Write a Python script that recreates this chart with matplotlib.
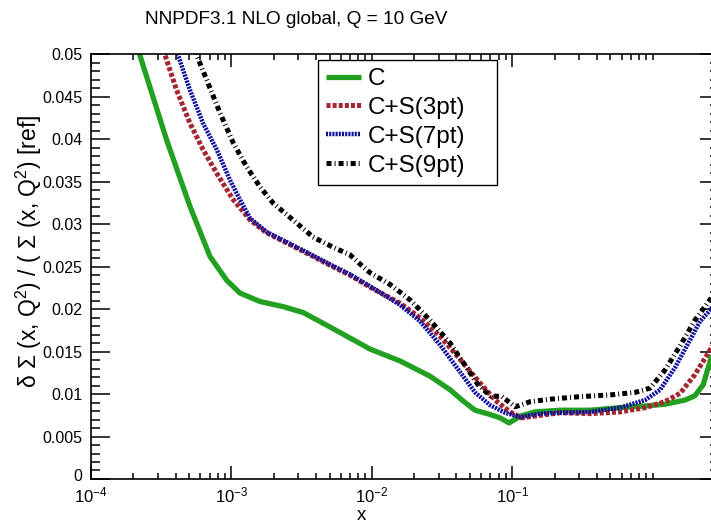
import matplotlib
matplotlib.use("Agg")
import matplotlib.pyplot as plt
from matplotlib.ticker import FixedLocator, NullFormatter
from matplotlib.transforms import ScaledTranslation

plt.rcParams["font.family"] = ["Liberation Sans", "DejaVu Sans"]
plt.rcParams["mathtext.fontset"] = "custom"
plt.rcParams["mathtext.rm"] = "Liberation Sans"
plt.rcParams["mathtext.it"] = "Liberation Sans:italic"
plt.rcParams["lines.scale_dashes"] = False

# uncertainty curves
x_c = [2.1e-4, 2.23e-4, 3.46e-4, 5.07e-4, 7.04e-4, 9.26e-4, 1.15e-3, 1.60e-3, 2.34e-3,
       3.25e-3, 5.04e-3, 7.0e-3, 9.71e-3, 1.59e-2, 2.60e-2, 3.61e-2, 4.46e-2, 5.43e-2,
       6.95e-2, 8.19e-2, 9.49e-2, 0.114, 0.145, 0.219, 0.358, 0.586, 0.883, 1.22,
       1.70, 2.00, 2.29, 2.61, 2.97]
y_c = [0.052, 0.0499, 0.0399, 0.0321, 0.0262, 0.0234, 0.0219, 0.0209, 0.0203,
       0.0196, 0.0179, 0.0166, 0.0153, 0.0139, 0.0121, 0.0105, 0.0092, 0.0081,
       0.0076, 0.0072, 0.0066, 0.0074, 0.0079, 0.0081, 0.0081, 0.0084, 0.0086, 0.0088,
       0.0093, 0.0098, 0.0111, 0.0143, 0.0170]

x_3pt = [3.2e-4, 3.37e-4, 4.07e-4, 5.07e-4, 6.28e-4, 7.86e-4, 1.03e-3, 1.36e-3, 1.78e-3,
         2.48e-3, 3.44e-3, 5.29e-3, 7.0e-3, 9.71e-3, 1.59e-2, 2.20e-2, 3.06e-2, 4.25e-2,
         5.90e-2, 7.54e-2, 9.64e-2, 0.117, 0.158, 0.219, 0.358, 0.586, 0.883, 1.22,
         1.57, 2.00, 2.61, 2.97]
y_3pt = [0.052, 0.0499, 0.0458, 0.0419, 0.0388, 0.0360, 0.0329, 0.0305, 0.0290,
         0.0278, 0.0266, 0.0250, 0.0240, 0.0226, 0.0207, 0.0190, 0.0168, 0.0141,
         0.0113, 0.0093, 0.0079, 0.0072, 0.0075, 0.0078, 0.0077, 0.0079, 0.0084, 0.0091,
         0.0101, 0.0123, 0.0154, 0.0180]

x_7pt = [4.0e-4, 4.17e-4, 5.07e-4, 6.28e-4, 7.86e-4, 9.77e-4, 1.15e-3, 1.36e-3, 1.78e-3,
         2.48e-3, 3.44e-3, 5.29e-3, 7.0e-3, 9.71e-3, 1.59e-2, 2.20e-2, 3.06e-2, 4.25e-2,
         5.43e-2, 6.95e-2, 8.89e-2, 0.114, 0.158, 0.219, 0.358, 0.586, 0.883, 1.13,
         1.44, 1.85, 2.18, 2.61, 2.97]
y_7pt = [0.052, 0.0499, 0.0458, 0.0419, 0.0388, 0.0352, 0.0329, 0.0307, 0.0291,
         0.0279, 0.0267, 0.0251, 0.0241, 0.0227, 0.0205, 0.0186, 0.0158, 0.0126,
         0.0102, 0.0087, 0.0078, 0.0073, 0.0077, 0.0078, 0.0079, 0.0084, 0.0093, 0.0105,
         0.0131, 0.0164, 0.0186, 0.0200, 0.0225]

x_9pt = [5.5e-4, 5.66e-4, 6.67e-4, 8.30e-4, 1.03e-3, 1.28e-3, 1.60e-3, 1.98e-3, 2.75e-3,
         3.81e-3, 5.29e-3, 7.0e-3, 8.65e-3, 9.71e-3, 1.35e-2, 1.87e-2, 2.60e-2, 3.61e-2,
         4.61e-2, 5.71e-2, 6.95e-2, 8.46e-2, 0.105, 0.134, 0.186, 0.304, 0.498, 0.750,
         0.957, 1.22, 1.57, 2.00, 2.61, 2.97]
y_9pt = [0.052, 0.0499, 0.0470, 0.0431, 0.0396, 0.0368, 0.0344, 0.0325, 0.0305,
         0.0285, 0.0273, 0.0264, 0.0250, 0.0243, 0.0229, 0.0211, 0.0187, 0.0160,
         0.0134, 0.0111, 0.0098, 0.0097, 0.0085, 0.0091, 0.0094, 0.0097, 0.0099, 0.0102,
         0.0107, 0.0128, 0.0157, 0.0187, 0.0213, 0.0235]

labels = ["C", "C+S(3pt)", "C+S(7pt)", "C+S(9pt)"]
x_major = [1e-4, 1e-3, 1e-2, 1e-1]
x_major_labels = [r"$10^{-4}$", r"$10^{-3}$", r"$10^{-2}$", r"$10^{-1}$"]
y_major = [0, 0.005, 0.01, 0.015, 0.02, 0.025, 0.03, 0.035, 0.04, 0.045, 0.05]
y_major_labels = ["0", "0.005", "0.01", "0.015", "0.02", "0.025", "0.03",
                  "0.035", "0.04", "0.045", "0.05"]


def main():
    fig = plt.figure(figsize=(7.11, 5.24), dpi=100)
    ax = fig.add_axes([0.128, 0.0859, 0.8833, 0.8101])

    ax.plot(x_c, y_c, color="#22a022", lw=3.8, solid_capstyle="butt", label=labels[0])
    ax.plot(x_3pt, y_3pt, color="#a32630", lw=3.6, dashes=(2.9, 1.5),
            dash_capstyle="butt", label=labels[1])
    ax.plot(x_7pt, y_7pt, color="#0c0c9e", lw=3.2, dashes=(1.5, 0.8),
            dash_capstyle="butt", label=labels[2])
    ax.plot(x_9pt, y_9pt, color="black", lw=3.6, dashes=(3.6, 2.2, 0.7, 2.2),
            dash_capstyle="butt", label=labels[3])

    ax.set_xscale("log")
    ax.set_xlim(1e-4, 2.97)
    ax.set_ylim(0, 0.05)

    ax.xaxis.set_major_locator(FixedLocator(x_major))
    ax.set_xticklabels(x_major_labels)
    minors = [m * d for d in x_major for m in range(2, 10)] + [1.0]
    ax.xaxis.set_minor_locator(FixedLocator(minors))
    ax.xaxis.set_minor_formatter(NullFormatter())
    ax.set_yticks(y_major)
    ax.set_yticklabels(y_major_labels)
    ax.yaxis.set_minor_locator(FixedLocator([i * 0.001 for i in range(51)]))

    ax.tick_params(axis="both", which="both", direction="in", top=True, right=True,
                   width=1.1, pad=6, color="black")
    ax.tick_params(axis="y", which="major", length=13.7, labelsize=11.5)
    ax.tick_params(axis="y", which="minor", length=6.8)
    ax.tick_params(axis="x", which="major", length=9.2, labelsize=12, pad=5)
    ax.tick_params(axis="x", which="minor", length=4.6)
    for sp in ax.spines.values():
        sp.set_linewidth(1.2)

    # the "0" label sits a touch above the axis, clear of 10^-4
    zero_lbl = ax.get_yticklabels()[0]
    zero_lbl.set_transform(zero_lbl.get_transform()
                           + ScaledTranslation(0, 0.04, fig.dpi_scale_trans))

    leg = ax.legend(loc="upper left", bbox_to_anchor=(0.361, 0.688, 0.285, 0.299),
                    mode="expand", fontsize=17.5, handlelength=1.45, handletextpad=0.28,
                    labelspacing=0.28, borderpad=0.33, borderaxespad=0,
                    fancybox=False, framealpha=1, edgecolor="black")
    leg.get_frame().set_linewidth(1.0)

    fig.text(0.417, 0.963, "NNPDF3.1 NLO global, Q = 10 GeV", ha="center", va="center",
             fontsize=13.7)
    fig.text(0.041, 0.521, r"δ Σ (x, Q$^2$) / ( Σ (x, Q$^2$) [ref]", rotation=90,
             ha="center", va="center", fontsize=16.5)
    fig.text(0.509, 0.0, "x", ha="center", va="bottom", fontsize=13.5)

    fig.savefig("out.png", dpi=100)


if __name__ == "__main__":
    main()
